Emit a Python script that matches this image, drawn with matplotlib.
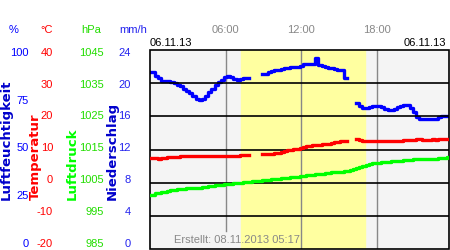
import numpy as np
import matplotlib
matplotlib.use("Agg")
import matplotlib.pyplot as plt

plt.rcParams["axes.unicode_minus"] = False

# time of day in hours, one reading every 15 minutes
hours = np.arange(0, 24, 0.25)
nan = np.nan

humidity = [88.8, 88.7, 87.0, 85.7, 84.5, 84.2, 84.2, 83.7, 83.2, 82.5, 81.7, 80.3,
            79.5, 78.3, 76.7, 75.3, 75.0, 75.3, 77.0, 78.7, 80.5, 82.3, 83.8, 85.0,
            86.2, 86.7, 86.2, 85.3, 85.0, 85.5, 85.8, 85.8, nan, nan, nan, nan,
            88.0, 88.0, 88.7, 89.5, 89.7, 90.0, 90.3, 90.8, 91.2, 91.5, 91.7, 91.7,
            92.2, 92.8, 93.0, 93.0, 93.0, 95.8, 92.3, 92.2, 91.7, 91.2, 90.8, 90.5,
            90.0, 90.0, 85.8, nan, nan, nan, 73.3, 72.0, 71.0, 70.8, 71.2, 72.0,
            72.0, 72.0, 71.5, 70.3, 70.0, 70.0, 70.3, 71.2, 72.0, 72.5, 72.2, 70.8,
            68.7, 66.3, 65.3, 65.3, 65.3, 65.3, 65.3, 65.5, 66.2, 66.7, 67.0, 67.0]

temperature = [7.55, 7.55, 7.45, 7.25, 7.35, 7.55, 7.65, 7.75, 7.75, 7.85, 7.95, 8.05,
               8.05, 8.05, 8.05, 8.05, 8.05, 8.05, 7.95, 7.95, 7.95, 7.95, 8.05, 8.05,
               8.05, 8.05, 8.05, 8.15, 8.15, 8.25, 8.25, 8.25, nan, nan, nan, nan,
               8.65, 8.75, 8.75, 8.75, 8.85, 9.05, 9.25, 9.45, 9.75, 9.95, 10.05, 10.25,
               10.45, 10.75, 10.95, 11.05, 11.25, 11.35, 11.45, 11.55, 11.65, 11.75, 11.95, 12.15,
               12.35, 12.55, 12.55, nan, nan, nan, 13.05, 12.95, 12.65, 12.55, 12.45, 12.45,
               12.45, 12.45, 12.45, 12.45, 12.45, 12.55, 12.45, 12.55, 12.65, 12.75, 12.85, 12.75,
               12.95, 13.05, 13.05, 12.95, 12.75, 12.95, 13.05, 12.95, 13.05, 13.05, 13.15, 13.25]

pressure = [1001.2, 1001.4, 1001.8, 1002.0, 1002.2, 1002.3, 1002.6, 1002.8, 1002.9, 1003.1, 1003.1, 1003.2,
            1003.3, 1003.3, 1003.4, 1003.5, 1003.5, 1003.6, 1003.7, 1003.9, 1004.1, 1004.2, 1004.3, 1004.4,
            1004.5, 1004.6, 1004.7, 1004.8, 1004.9, 1005.0, 1005.1, 1005.2, 1005.3, 1005.4, 1005.5, 1005.6,
            1005.7, 1005.8, 1005.9, 1006.0, 1006.1, 1006.2, 1006.3, 1006.4, 1006.5, 1006.6, 1006.7, 1006.8,
            1006.9, 1007.0, 1007.2, 1007.3, 1007.4, 1007.5, 1007.6, 1007.7, 1007.8, 1008.0, 1008.1, 1008.1,
            1008.2, 1008.3, 1008.4, 1008.5, 1008.7, 1009.0, 1009.4, 1009.7, 1010.0, 1010.3, 1010.6, 1010.8,
            1010.9, 1011.0, 1011.1, 1011.2, 1011.3, 1011.4, 1011.5, 1011.6, 1011.6, 1011.7, 1011.8, 1011.9,
            1012.0, 1012.1, 1012.1, 1012.1, 1012.1, 1012.1, 1012.2, 1012.2, 1012.3, 1012.4, 1012.5, 1012.6]

daylight = (7.23, 17.07)       # sunrise / sunset
hour_ticks = [6, 12, 18]
hour_labels = ["06:00", "12:00", "18:00"]
date_label = "06.11.13"
created = "Erstellt: 08.11.2013 05:17"

hum_ticks = [0, 25, 50, 75, 100]
temp_ticks = [-20, -10, 0, 10, 20, 30, 40]
pres_ticks = [985, 995, 1005, 1015, 1025, 1035, 1045]
rain_ticks = [0, 4, 8, 12, 16, 20, 24]

BLUE = "#0000ff"
RED = "#ff0000"
GREEN = "#00ff00"
GRAY = "#888888"
TXT = "Liberation Sans"

fig = plt.figure(figsize=(4.5, 2.5), dpi=100)
ax = fig.add_axes([150 / 450, 1 / 250, 299 / 450, 199 / 250])
ax.set_facecolor("#f4f4f4")
ax.set_xlim(0, 23.75)
ax.set_ylim(0, 100)
ax.set_xticks([])
ax.set_yticks([])
for s in ax.spines.values():
    s.set_visible(False)

ax_t = ax.twinx()
ax_t.set_ylim(-20, 40)
ax_t.axis("off")
ax_p = ax.twinx()
ax_p.set_ylim(985, 1045)
ax_p.axis("off")

# daylight band and grid
ax.axvspan(daylight[0], daylight[1], color="#ffffa0", zorder=0)
for h in hour_ticks:
    ymin = 0.09 if h == 6 else 0
    ax.axvline(h, ymin=ymin, color=GRAY, lw=1, zorder=1)
for t in temp_ticks[1:-1]:
    ax_t.axhline(t, color="black", lw=1.2, zorder=1)

# border drawn as a frame
frame = plt.Rectangle((0, 0), 1, 1, transform=ax.transAxes, fill=False,
                      edgecolor="black", lw=1.2, zorder=5, clip_on=False)
ax.add_patch(frame)

# left side tick columns: thin axes whose scales set the label rows
label_bottom = 1 - 243 / 250
label_height = (243 - 51.7) / 250
for xr, lim, ticks, col in [(29, (0, 100), hum_ticks, BLUE),
                            (53, (-20, 40), temp_ticks, RED),
                            (104, (985, 1045), pres_ticks, "#22dd00"),
                            (131, (0, 24), rain_ticks, "#2222ee")]:
    la = fig.add_axes([xr / 450, label_bottom, 0.001, label_height])
    la.set_ylim(*lim)
    la.set_yticks(ticks)
    la.set_xticks([])
    la.patch.set_visible(False)
    for s in la.spines.values():
        s.set_visible(False)
    la.tick_params(axis="y", length=0, pad=0, labelcolor=col, labelsize=8)
    for lab in la.get_yticklabels():
        lab.set_fontfamily(TXT)

# data
ax.plot(hours, humidity, color=BLUE, lw=2.4, drawstyle="steps-mid", zorder=3)
ax_t.plot(hours, temperature, color=RED, lw=2.4, drawstyle="steps-mid", zorder=3)
ax_p.plot(hours, pressure, color=GREEN, lw=2.4, drawstyle="steps-mid", zorder=3)

# texts
ax.text(0.08, 0.045, created, transform=ax.transAxes, color=GRAY,
        fontsize=8, family=TXT, va="center", ha="left", zorder=4)
for h, lab in zip(hour_ticks, hour_labels):
    ax.text(h, 1.1, lab, transform=ax.get_xaxis_transform(), color=GRAY,
            fontsize=8, family=TXT, ha="center", va="center")
ax.text(0, 1.01, date_label, transform=ax.transAxes, fontsize=8, family=TXT,
        ha="left", va="bottom")
ax.text(0.99, 1.01, date_label, transform=ax.transAxes, fontsize=8, family=TXT,
        ha="right", va="bottom")

for x, lab, col in [(14, "%", BLUE), (47, "°C", RED), (91, "hPa", "#22dd00"),
                    (133, "mm/h", "#2222ee")]:
    fig.text(x / 450, 1 - 30 / 250, lab, color=col, fontsize=8, family=TXT,
             ha="center", va="center")

for x, lab, col in [(6, "Luftfeuchtigkeit", "#0000cc"), (35.5, "Temperatur", RED),
                    (72, "Luftdruck", GREEN), (112, "Niederschlag", "#0000cc")]:
    fig.text(x / 450, 1 - 200 / 250, lab, color=col, fontsize=9.5,
             fontweight="bold", rotation=90, ha="center", va="bottom")

fig.savefig("out.png", dpi=100)
